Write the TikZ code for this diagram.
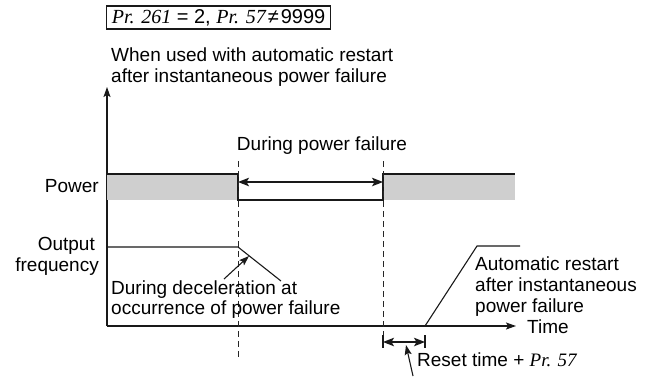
\documentclass[tikz,border=0pt]{standalone}
\usepackage{fontspec}
\setmainfont{Liberation Sans}
\newfontfamily\prfont{Liberation Serif}
\usetikzlibrary{arrows.meta}
\newcommand{\prtxt}[1]{{\prfont\itshape #1}}
\begin{document}
\begin{tikzpicture}[x=1pt,y=-1pt,
  lbl/.style={inner sep=0pt,font=\fontsize{19}{21}\selectfont},
  ln/.style={line width=1.1pt,black!90},
  axis/.style={line width=1.2pt,black!90,-{Stealth[length=10pt,width=7pt,inset=2pt]}},
  dbl/.style={line width=1.2pt,black!90,{Stealth[length=11pt,width=8.5pt,inset=2.5pt]}-{Stealth[length=11pt,width=8.5pt,inset=2.5pt]}},
  ptr/.style={line width=1.1pt,black!90,-{Stealth[length=10pt,width=7pt,inset=2pt]}},
  dsh/.style={line width=0.9pt,black!85,dash pattern=on 6pt off 4pt},
  band/.style={fill=black!19,draw=none}]
\useasboundingbox (0,0) rectangle (658,376);
% title box
\node[lbl,draw,line width=1.1pt,black!90,text=black,anchor=west,inner xsep=3pt,inner ysep=2pt,minimum height=23pt,minimum width=224pt,font=\fontsize{20}{21}\selectfont] (title) at (106,17.5)
  {\prtxt{Pr. 261} = 2, \prtxt{Pr. 57}\kern2pt≠\kern2pt9999};
\node[lbl,anchor=base west] (w1) at (111,61) {When used with automatic restart};
\node[lbl,anchor=base west] (w2) at (111,82) {after instantaneous power failure};
% axes
\coordinate (O) at (107,326);
\coordinate (Ytop) at (107,87);
\coordinate (Xend) at (516,326);
\draw[axis] (O) -- (Ytop);
\draw[axis] (O) -- (Xend);
\node[lbl,anchor=west] (time) at (527,326.5) {Time};
% power band
\fill[band] (107,174) rectangle (238,200);
\fill[band] (383,174) rectangle (515,200);
\coordinate (pf1) at (238,174);
\coordinate (pf2) at (383,174);
\draw[ln,line width=1.2pt] (107,174) -- (pf1) -- (238,200) -- (383,200) -- (pf2) -- (515,174);
\coordinate (da1) at (238,182);
\coordinate (da2) at (383,182);
\draw[dbl] (da1) -- (da2);
\node[lbl,anchor=base] (dpf) at (322,150) {During power failure};
\node[lbl,anchor=base east] (power) at (99,192) {Power};
% dashed markers
\coordinate (d1t) at (238,161);
\coordinate (d1b) at (238,358);
\coordinate (d2t) at (383,161);
\coordinate (d2b) at (383,336);
\draw[dsh] (d1t) -- (d1b);
\draw[dsh] (d2t) -- (d2b);
% output frequency
\node[lbl,anchor=base east] (of1) at (95,250) {Output};
\node[lbl,anchor=base east] (of2) at (99,271) {frequency};
\coordinate (f0) at (107,247);
\coordinate (f1) at (238,247);
\coordinate (f2) at (281,281);
\draw[ln] (f0) -- (f1) -- (f2);
\coordinate (decA) at (224,279);
\coordinate (decB) at (249,256);
\draw[ptr] (decA) -- (decB);
\node[lbl,anchor=base west] (dd1) at (111,294) {During deceleration at};
\node[lbl,anchor=base west] (dd2) at (111,314) {occurrence of power failure};
% restart
\coordinate (r0) at (425,326);
\coordinate (r1) at (477,246);
\coordinate (r2) at (520,246);
\draw[ln] (r0) -- (r1) -- (r2);
\node[lbl,anchor=base west] (ar1) at (475,270) {Automatic restart};
\node[lbl,anchor=base west] (ar2) at (475,291) {after instantaneous};
\node[lbl,anchor=base west] (ar3) at (475,312) {power failure};
% reset time
\coordinate (t1a) at (383,335);
\coordinate (t1b) at (383,348);
\coordinate (t2a) at (425,335);
\coordinate (t2b) at (425,348);
\draw[ln] (t1a) -- (t1b);
\draw[ln] (t2a) -- (t2b);
\coordinate (ra1) at (383,342);
\coordinate (ra2) at (425,342);
\draw[dbl] (ra1) -- (ra2);
\coordinate (rp0) at (413,376);
\coordinate (rp1) at (406,345);
\draw[ptr] (rp0) -- (rp1);
\node[lbl,anchor=base west] (rt) at (417,366) {Reset time + \prtxt{Pr. 57}};
\end{tikzpicture}
\end{document}
